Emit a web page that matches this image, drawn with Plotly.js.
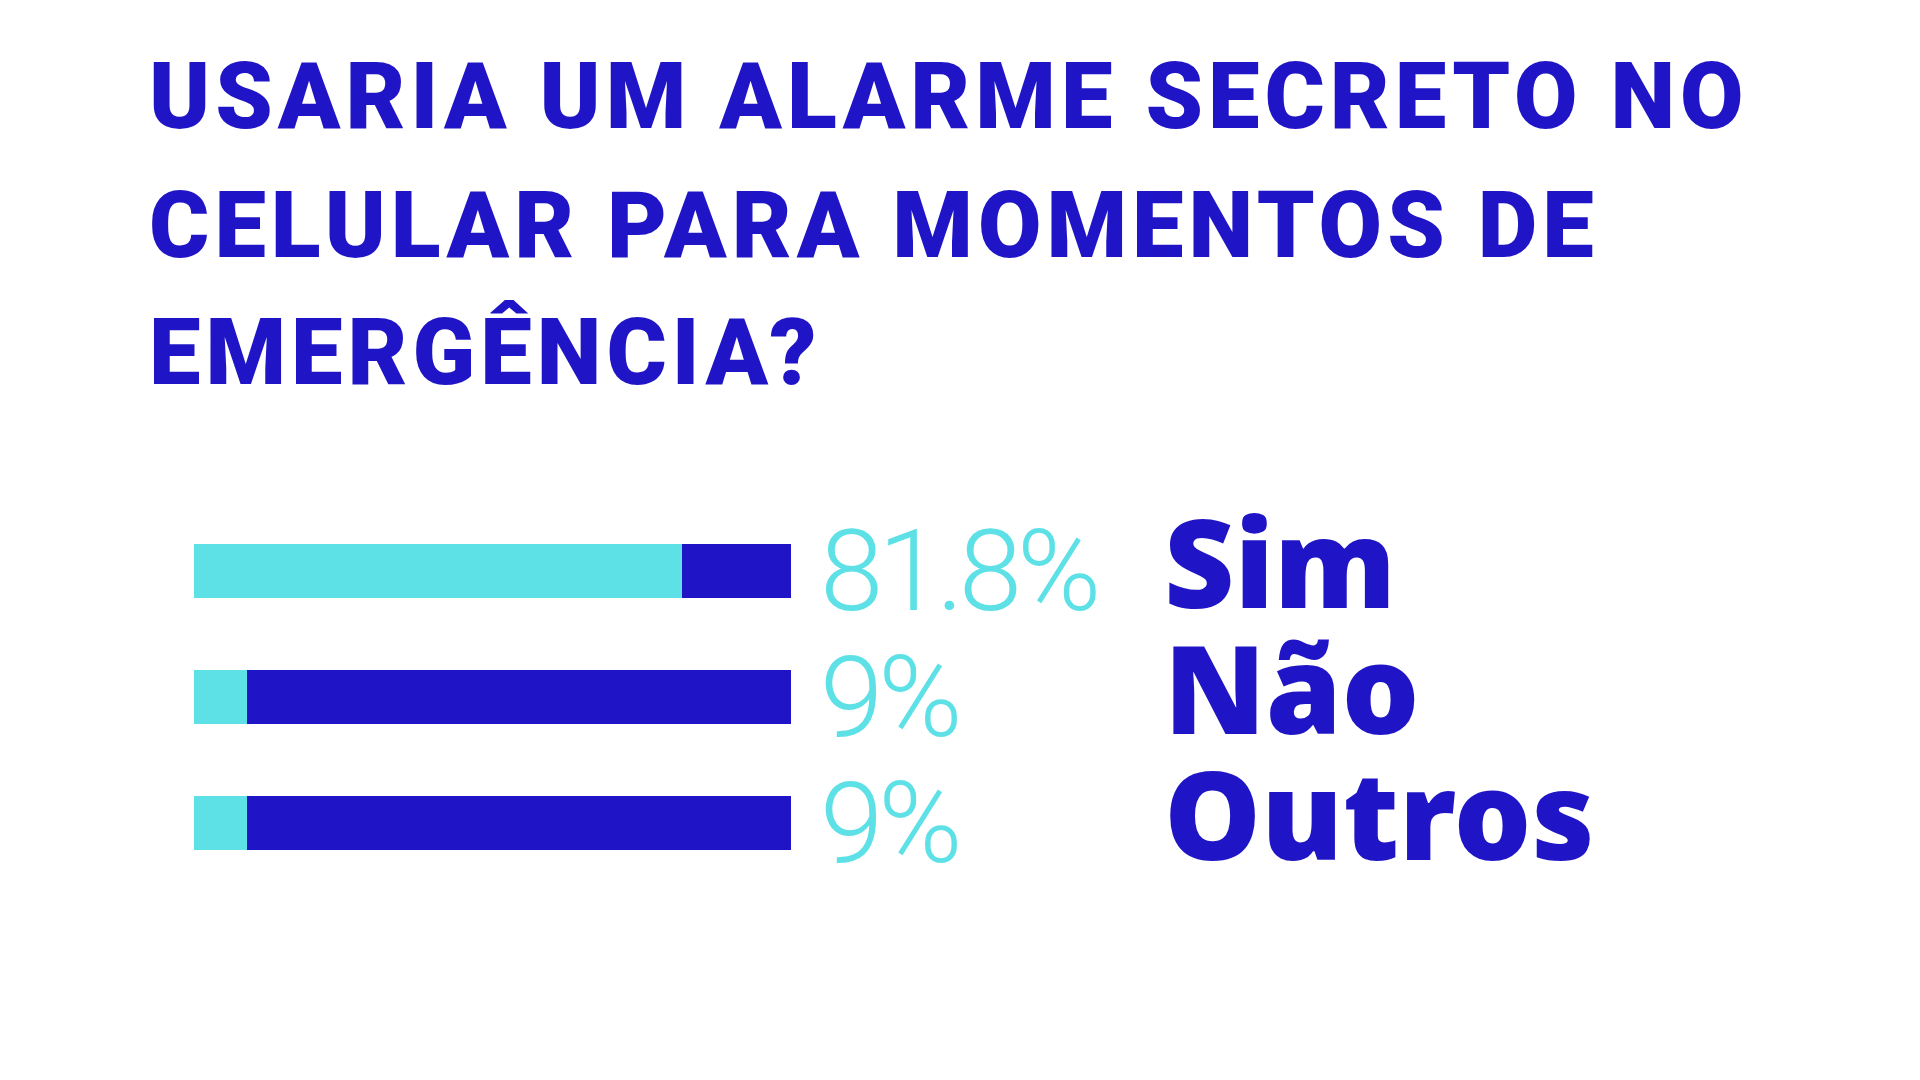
<!DOCTYPE html>
<html>
<head>
<meta charset="utf-8">
<script src="https://cdn.plot.ly/plotly-3.0.1.min.js"></script>
<style>
  html, body { margin: 0; padding: 0; background: #ffffff; }
  #chart { width: 1920px; height: 1080px; }
  g.annotation[data-index="0"] text,
  g.annotation[data-index="1"] text,
  g.annotation[data-index="2"] text { letter-spacing: 5px; }
  g.annotation[data-index="3"] text,
  g.annotation[data-index="5"] text,
  g.annotation[data-index="7"] text { letter-spacing: -5px; }
</style>
</head>
<body>
<div id="chart"></div>
<script>
const categories = ['Sim', 'Não', 'Outros'];
const shareValues = [81.8, 9, 9];
const restValues = [18.2, 91, 91];
const pctLabels = ['81.8%', '9%', '9%'];
const titleLines = ['USARIA UM ALARME SECRETO NO', 'CELULAR PARA MOMENTOS DE', 'EMERGÊNCIA?'];

const CYAN = '#5DE1E6';
const BLUE = '#1F14C6';
const W = 1920, H = 1080;
const py = px => 1 - px / H;
const pxX = px => px / W;

const traces = [
  {
    type: 'bar', orientation: 'h',
    y: categories, x: shareValues,
    marker: { color: CYAN },
    hoverinfo: 'skip'
  },
  {
    type: 'bar', orientation: 'h',
    y: categories, x: restValues,
    marker: { color: BLUE },
    hoverinfo: 'skip'
  }
];

const annotations = [];
const titleCenters = [97, 225, 352];
titleLines.forEach((t, i) => {
  annotations.push({
    text: t, xref: 'paper', yref: 'paper',
    x: pxX(147), y: py(titleCenters[i]),
    xanchor: 'left', yanchor: 'middle', align: 'left', showarrow: false,
    font: { family: 'Roboto, Inter, sans-serif', size: 92, weight: 900, color: BLUE }
  });
});
categories.forEach((c, i) => {
  annotations.push({
    text: pctLabels[i], xref: 'paper', yref: 'y',
    x: pxX(818), y: c, xanchor: 'left', yanchor: 'middle', align: 'left', showarrow: false,
    yshift: 0,
    font: { family: 'Roboto, "Liberation Sans", sans-serif', size: 114, weight: 300, color: CYAN }
  });
  annotations.push({
    text: c, xref: 'paper', yref: 'y',
    x: pxX(1162), y: c, xanchor: 'left', yanchor: 'middle', align: 'left', showarrow: false,
    yshift: 10,
    font: { family: '"Noto Sans", "Open Sans", sans-serif', size: 122, weight: 900, color: BLUE }
  });
});

const layout = {
  width: W, height: H,
  margin: { l: 0, r: 0, t: 0, b: 0 },
  paper_bgcolor: '#ffffff', plot_bgcolor: '#ffffff',
  barmode: 'stack', bargap: 0.571,
  showlegend: false,
  xaxis: {
    range: [0, 100], domain: [193.5 / W, 791 / W],
    showgrid: false, zeroline: false, showticklabels: false, showline: false, fixedrange: true
  },
  yaxis: {
    type: 'category', range: [2.5, -0.5], domain: [py(886), py(508)],
    showgrid: false, zeroline: false, showticklabels: false, showline: false, fixedrange: true
  },
  annotations: annotations
};

Plotly.newPlot('chart', traces, layout, { displayModeBar: false, staticPlot: true });
</script>
</body>
</html>
